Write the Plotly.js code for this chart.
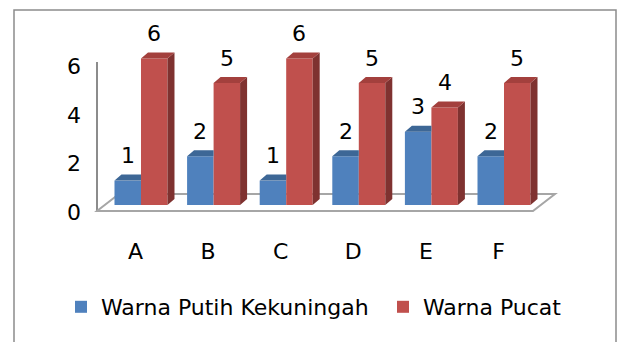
<!DOCTYPE html>
<html>
<head>
<meta charset="utf-8">
<script src="https://cdn.plot.ly/plotly-3.0.1.min.js"></script>
<style>
  html, body { margin: 0; padding: 0; background: #ffffff; }
  #chart { width: 619px; height: 342px; }
</style>
</head>
<body>
<div id="chart"></div>
<script>
// Chart data
const categories = ['A', 'B', 'C', 'D', 'E', 'F'];
const putihKekuningah = [1, 2, 1, 2, 3, 2];
const pucat = [6, 5, 6, 5, 4, 5];
const seriesNames = ['Warna Putih Kekuningah', 'Warna Pucat'];
const yTickValues = [0, 2, 4, 6];

// Geometry of the pseudo-3D bars (category units / value units)
const BAR_W = 0.365;            // width of one bar front face
const DX = 0.0964;              // depth offset, horizontal
const DY = 0.246;               // depth offset, vertical

const FONT = 'DejaVu Sans';
const LABEL_SIZE = 22;
const colors = {
  blueFront: '#4F81BD', blueTop: '#3D6796',
  redFront: '#C0504D', redTop: '#A3403D', redSide: '#7F3230'
};

const idx = categories.map((_, i) => i);

// polygons for the top caps and side faces, built from the values
function topCaps(values, x0Of, x1Of, trimRight) {
  const xs = [], ys = [];
  values.forEach((v, i) => {
    const x0 = x0Of(i), x1 = x1Of(i);
    xs.push(x0, x0 + DX, trimRight ? x1 : x1 + DX, x1, x0, null);
    ys.push(v, v + DY, v + DY, v, v, null);
  });
  return { xs, ys };
}
function sideFaces(values, x1Of) {
  const xs = [], ys = [];
  values.forEach((v, i) => {
    const x1 = x1Of(i);
    xs.push(x1, x1, x1 + DX, x1 + DX, x1, null);
    ys.push(0, v, v + DY, DY, 0, null);
  });
  return { xs, ys };
}
function poly(p, color) {
  return {
    type: 'scatter', mode: 'lines', x: p.xs, y: p.ys, fill: 'toself',
    fillcolor: color, line: { width: 0, color: color }, showlegend: false,
    hoverinfo: 'skip'
  };
}

const blueX0 = i => i - BAR_W, blueX1 = i => i;
const redX0 = i => i, redX1 = i => i + BAR_W;

const traces = [
  {
    type: 'bar', name: seriesNames[0], x: idx, y: putihKekuningah, legend: 'legend',
    width: BAR_W, offset: -BAR_W, marker: { color: colors.blueFront, line: { width: 0 } },
    hoverinfo: 'skip'
  },
  {
    type: 'bar', name: seriesNames[1], x: idx, y: pucat, legend: 'legend2',
    width: BAR_W, offset: 0, marker: { color: colors.redFront, line: { width: 0 } },
    hoverinfo: 'skip'
  },
  poly(topCaps(putihKekuningah, blueX0, blueX1, true), colors.blueTop),
  poly(sideFaces(pucat, redX1), colors.redSide),
  poly(topCaps(pucat, redX0, redX1, false), colors.redTop),
  // anchors the value axis and the category axis
  { type: 'scatter', mode: 'markers', x: [0], y: [0], xaxis: 'x', yaxis: 'y2',
    marker: { opacity: 0 }, showlegend: false, hoverinfo: 'skip' },
  { type: 'scatter', mode: 'markers', x: [0], y: [0], xaxis: 'x2', yaxis: 'y',
    marker: { opacity: 0 }, showlegend: false, hoverinfo: 'skip' }
];

// value labels above each bar
const annotations = [];
putihKekuningah.forEach((v, i) => annotations.push({
  x: i - BAR_W / 2, y: v, xref: 'x', yref: 'y', text: String(v), showarrow: false,
  yshift: 25, font: { family: FONT, size: LABEL_SIZE, color: '#000000' }
}));
pucat.forEach((v, i) => annotations.push({
  x: i + BAR_W / 2, y: v, xref: 'x', yref: 'y', text: String(v), showarrow: false,
  yshift: 25, font: { family: FONT, size: LABEL_SIZE, color: '#000000' }
}));

const WIDTH = 619, HEIGHT = 342;
const xRange = [-1.942, 6.584];
const yRange = [-5.615, 8.402];
const CAT_SHIFT = 0.076;

// floor of the chart
const floor = { fl: -0.606, fr: 5.399, bl: -0.303, br: 5.702, fy: -0.246, by: 0.451 };

const legendStyle = {
  orientation: 'h', y: (HEIGHT - 307) / HEIGHT,
  xanchor: 'left', yanchor: 'middle', bgcolor: 'rgba(0,0,0,0)',
  font: { family: FONT, size: 22, color: '#000000' }
};

const layout = {
  width: WIDTH, height: HEIGHT,
  margin: { l: 0, r: 0, t: 0, b: 0 },
  paper_bgcolor: '#ffffff', plot_bgcolor: 'rgba(0,0,0,0)',
  barmode: 'overlay',
  showlegend: true,
  font: { family: FONT, size: LABEL_SIZE, color: '#000000' },
  xaxis: { range: xRange, visible: false, fixedrange: true },
  yaxis: { range: yRange, visible: false, fixedrange: true },
  xaxis2: {
    overlaying: 'x', anchor: 'free', position: (HEIGHT - 236) / HEIGHT,
    range: [xRange[0] + CAT_SHIFT, xRange[1] + CAT_SHIFT],
    tickvals: idx, ticktext: categories, showline: false, ticks: '',
    showgrid: false, zeroline: false, fixedrange: true,
    tickfont: { family: FONT, size: LABEL_SIZE, color: '#000000' }
  },
  yaxis2: {
    anchor: 'free', position: 97 / WIDTH, side: 'left',
    domain: [(HEIGHT - 212.5) / HEIGHT, (HEIGHT - 63.7) / HEIGHT],
    range: [0, 6.1], tickvals: yTickValues, ticks: '', showgrid: false,
    zeroline: false, showline: false,
    ticklabelstandoff: 16, fixedrange: true,
    tickfont: { family: FONT, size: LABEL_SIZE, color: '#000000' }
  },
  legend: Object.assign({ x: 61 / WIDTH }, legendStyle),
  legend2: Object.assign({ x: 383 / WIDTH }, legendStyle),
  shapes: [
    {
      type: 'rect', xref: 'paper', yref: 'paper', layer: 'below',
      x0: 14 / WIDTH, x1: 616 / WIDTH, y0: -0.1, y1: (HEIGHT - 10) / HEIGHT,
      line: { color: '#8c8c8c', width: 1.5 }, fillcolor: 'rgba(0,0,0,0)'
    },
    {
      type: 'path', xref: 'x', yref: 'y', layer: 'below',
      path: `M${floor.fl},${floor.fy} L${floor.fr},${floor.fy} L${floor.br},${floor.by} L${floor.bl},${floor.by} Z`,
      line: { color: '#a6a6a6', width: 2 }, fillcolor: '#ffffff'
    },
    // left wall edge
    {
      type: 'line', xref: 'paper', yref: 'paper', layer: 'below',
      x0: 97 / WIDTH, x1: 97 / WIDTH,
      y0: (HEIGHT - 211) / HEIGHT, y1: (HEIGHT - 62) / HEIGHT,
      line: { color: '#8c8c8c', width: 2 }
    }
  ],
  annotations: annotations
};

Plotly.newPlot('chart', traces, layout, { displayModeBar: false, staticPlot: true });
</script>
</body>
</html>
